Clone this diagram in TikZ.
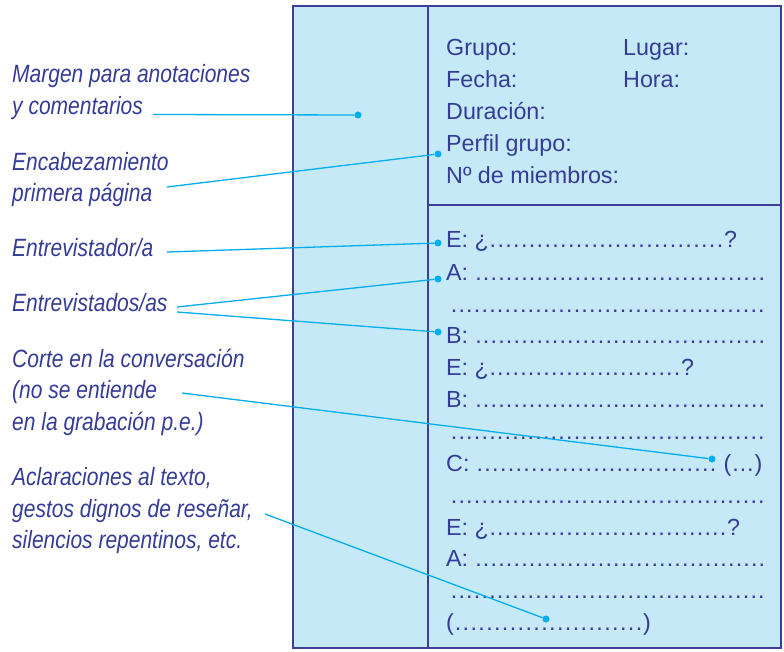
\documentclass[tikz,border=0pt]{standalone}
\usepackage{fontspec}
\setmainfont{Liberation Sans}
\newfontfamily\notafont[FakeStretch=0.84]{Liberation Sans}
\definecolor{fondo}{HTML}{C6E9F8}
\definecolor{marco}{HTML}{3C3E98}
\definecolor{tinta}{HTML}{343C96}
\definecolor{guia}{HTML}{00AEEF}
\newcommand{\puntos}[1]{\hbox to #1{\xleaders\hbox to 7.6pt{\hss.\hss}\hfill}}
\tikzstyle{every picture}=[x=1pt, y=-1pt]
\tikzstyle{campo}=[anchor=base west, inner sep=0pt, text=tinta, font=\fontsize{23.3}{28}\selectfont]
\tikzstyle{nota}=[anchor=base west, inner sep=0pt, text=tinta, font=\fontsize{25}{28}\selectfont\notafont\itshape]
\tikzstyle{punto}=[circle, fill=guia, inner sep=0pt, minimum size=7pt]
\tikzstyle{guiado}=[draw=guia, line width=1.3pt]
\tikzstyle{hoja}=[draw=marco, line width=1.4pt]

\begin{document}
\begin{tikzpicture}
	\useasboundingbox (0,0) rectangle (784,652);

	\draw[hoja, fill=fondo] (293,6) rectangle (781,648);
	\draw[hoja] (428,6) -- (428,648);
	\draw[hoja] (428,205) -- (781,205);

	\path (12,83) node[nota] (t_0) {Margen para anotaciones}
	      (12,115) node[nota] (t_1) {y comentarios}
	      (12,171) node[nota] (t_2) {Encabezamiento}
	      (12,202) node[nota] (t_3) {primera página}
	      (12,257) node[nota] (t_4) {Entrevistador/a}
	      (12,311) node[nota] (t_5) {Entrevistados/as}
	      (12,367) node[nota] (t_6) {Corte en la conversación}
	      (12,398) node[nota] (t_7) {(no se entiende}
	      (12,430) node[nota] (t_8) {en la grabación p.e.)}
	      (12,485) node[nota] (t_9) {Aclaraciones al texto,}
	      (12,517) node[nota] (t_10) {gestos dignos de reseñar,}
	      (12,548) node[nota] (t_11) {silencios repentinos, etc.};

	\path (446,56) node[campo] (h_0) {Grupo:}
	      (623,56) node[campo] (h_1) {Lugar:}
	      (446,88) node[campo] (h_2) {Fecha:}
	      (623,88) node[campo] (h_3) {Hora:}
	      (446,120) node[campo] (h_4) {Duración:}
	      (446,152) node[campo] (h_5) {Perfil grupo:}
	      (446,184) node[campo] (h_6) {Nº de miembros:};

	\path (446,248) node[campo] (d_0) {E: ¿\puntos{235pt}?}
	      (446,280) node[campo] (d_1) {A: \puntos{291pt}}
	      (450,312) node[campo] (d_2) {\puntos{315pt}}
	      (446,343.5) node[campo] (d_3) {B: \puntos{291pt}}
	      (446,375.5) node[campo] (d_4) {E: ¿\puntos{192pt}?}
	      (446,407) node[campo] (d_5) {B: \puntos{291pt}}
	      (450,439) node[campo] (d_6) {\puntos{315pt}}
	      (446,471) node[campo] (d_7) {C: \puntos{241pt} (…)}
	      (450,503) node[campo] (d_8) {\puntos{315pt}}
	      (446,535) node[campo] (d_9) {E: ¿\puntos{238pt}?}
	      (446,566.5) node[campo] (d_10) {A: \puntos{291pt}}
	      (450,598.5) node[campo] (d_11) {\puntos{315pt}}
	      (446,630) node[campo] (d_12) {(\puntos{189pt})};

	\path (358,115) node[punto] (p_0) {}
	      (438,154) node[punto] (p_1) {}
	      (438,243) node[punto] (p_2) {}
	      (438,279) node[punto] (p_3) {}
	      (438,332) node[punto] (p_4) {}
	      (712,459) node[punto] (p_5) {}
	      (546,619) node[punto] (p_6) {};

	\coordinate (c_0) at (153,114.5);
	\coordinate (c_1) at (167,187);
	\coordinate (c_2) at (167,252);
	\coordinate (c_3) at (177,307);
	\coordinate (c_4) at (177,312);
	\coordinate (c_5) at (182,393);
	\coordinate (c_6) at (265,514);

	\draw[guiado] (c_0) edge (p_0);
	\draw[guiado] (c_1) edge (p_1);
	\draw[guiado] (c_2) edge (p_2);
	\draw[guiado] (c_3) edge (p_3);
	\draw[guiado] (c_4) edge (p_4);
	\draw[guiado] (c_5) edge (p_5);
	\draw[guiado] (c_6) edge (p_6);

\end{tikzpicture}
\end{document}
